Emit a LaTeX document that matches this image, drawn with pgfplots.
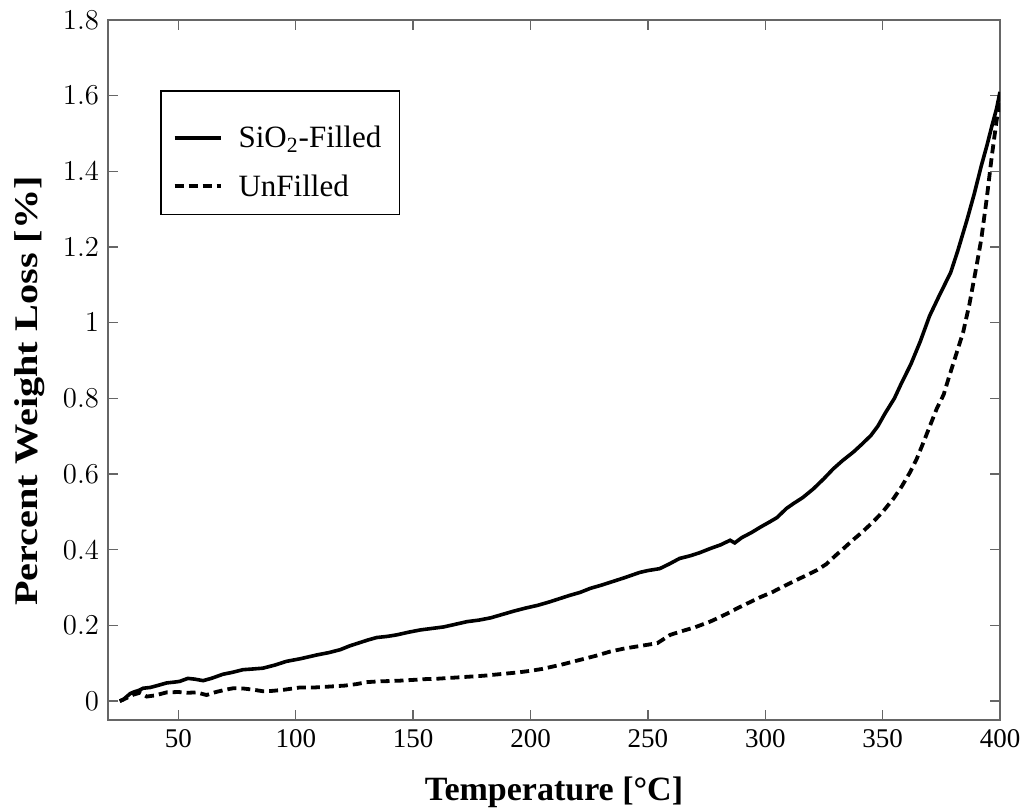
\documentclass[border=0pt]{standalone}
\usepackage{fontspec}
\setmainfont{Liberation Serif}
\newfontfamily\ylabfont[FakeStretch=1.22]{Liberation Serif}
\usepackage{pgfplots}
\pgfplotsset{compat=1.18}
\begin{document}
\begin{tikzpicture}
\begin{axis}[
  scale only axis,
  width=446pt, height=350pt,
  xmin=20, xmax=400, ymin=-0.05, ymax=1.8,
  xtick={50,100,...,400},
  ytick={0,0.2,0.4,0.6,0.8,1,1.2,1.4,1.6,1.8},
  yticklabels={$0$,$0.2$,$0.4$,$0.6$,$0.8$,$1$,$1.2$,$1.4$,$1.6$,$1.8$},
  tick align=inside,
  major tick length=5pt,
  axis line style={black!60, line width=0.7pt},
  every tick/.style={black!60, line width=0.7pt},
  xticklabel style={/pgf/number format/assume math mode=true, font=\fontsize{13.5}{15}\selectfont, yshift=-1pt},
  yticklabel style={font=\fontsize{15}{17}\selectfont, xshift=-1pt},
  xlabel={\textbf{Temperature [\textdegree C]}},
  ylabel={\ylabfont\bfseries Percent Weight Loss [\%]},
  xlabel style={font=\fontsize{17}{19}\selectfont, yshift=-8pt},
  ylabel style={font=\fontsize{16.5}{19}\selectfont, at={(ticklabel cs:0.47)}, yshift=2pt},
  legend style={at={(0.0583,0.9)}, anchor=north west, draw=black, line width=0.8pt,
    font=\fontsize{15.5}{18}\selectfont, inner xsep=6pt, inner ysep=5.5pt, row sep=8pt,
    cells={anchor=base west}},
  legend image code/.code={\draw[#1] (0pt,5pt) -- (23pt,5pt);},
]
\addplot[black, line width=1.8pt] coordinates {
(25,0)(26.5,0.004)(28,0.012)(29.5,0.02)(31,0.024)(33,0.028)(35,0.034)(38,0.036)(41,0.041)(45,0.048)
(48,0.05)(50.5,0.052)(54,0.06)(57,0.058)(60.5,0.054)(64,0.06)(69,0.071)(73,0.076)(77.5,0.083)(82,0.085)
(86,0.087)(91,0.095)(96,0.105)(102,0.112)(109,0.122)(114,0.128)(119,0.136)(123,0.146)(127,0.154)(131,0.162)
(134.5,0.168)(139,0.171)(143,0.175)(148,0.182)(153,0.188)(158,0.192)(163,0.196)(168,0.203)(173,0.21)(178,0.214)
(183,0.22)(188,0.229)(193,0.238)(198,0.246)(203,0.253)(208,0.262)(212.5,0.271)(217,0.28)(221,0.287)(225.5,0.298)
(230,0.306)(235,0.316)(240,0.326)(246.5,0.34)(250,0.345)(255,0.35)(259,0.362)(263.5,0.377)(268,0.384)(272,0.392)
(276.5,0.403)(281,0.413)(285,0.425)(287,0.418)(290,0.432)(294,0.445)(298,0.46)(302,0.474)(305,0.485)(309,0.509)
(312,0.522)(316,0.538)(320.5,0.561)(325,0.588)(329,0.614)(333,0.636)(337.5,0.658)(341,0.678)(345,0.702)(348,0.727)
(351,0.76)(355,0.8)(358,0.84)(362,0.89)(366,0.95)(370,1.018)(374,1.07)(379,1.133)(382,1.19)(386,1.273)
(389,1.34)(392,1.414)(394.5,1.47)(396.5,1.519)(398.5,1.565)(400,1.61)
};
\addlegendentry{\rule{0pt}{21pt}\hspace*{6pt}SiO\textsubscript{2}-Filled\hspace*{1pt}}
\addplot[black, line width=1.9pt, dash pattern=on 4.5pt off 2.5pt] coordinates {
(25,0)(26.5,0.004)(28.5,0.01)(30.8,0.017)(33.6,0.022)(36.5,0.012)(40,0.015)(45,0.023)(50,0.024)(54,0.022)
(57.7,0.023)(62,0.016)(66,0.024)(70,0.03)(73.4,0.034)(78,0.033)(82,0.03)(86,0.026)(90,0.027)(95,0.03)
(101.8,0.036)(108,0.036)(116,0.039)(121,0.041)(126,0.045)(130,0.05)(135,0.052)(140,0.053)(144.4,0.054)(150,0.056)
(155,0.058)(160,0.059)(165,0.061)(170,0.063)(175,0.065)(180,0.067)(185,0.07)(190,0.073)(195,0.076)(200,0.08)
(205,0.085)(210,0.092)(213,0.096)(218,0.104)(223,0.112)(228,0.12)(234,0.131)(240,0.139)(246,0.145)(250,0.149)
(254,0.153)(259.5,0.175)(264,0.184)(270,0.195)(276.5,0.21)(280,0.22)(284,0.232)(288,0.245)(293,0.26)(298,0.275)
(303,0.288)(309,0.307)(314,0.322)(318,0.334)(322,0.346)(326,0.362)(330,0.385)(333.3,0.403)(337,0.424)(341,0.445)
(346,0.474)(350,0.5)(354.6,0.535)(358,0.566)(361.7,0.605)(364.5,0.64)(367.4,0.684)(370,0.725)(373,0.772)(376,0.81)
(378,0.851)(381,0.91)(384.3,0.975)(387,1.05)(390,1.15)(392,1.22)(394.3,1.326)(396.5,1.44)(398.6,1.537)(400,1.58)
};
\addlegendentry{\hspace*{6pt}UnFilled}
\end{axis}
\pgfresetboundingbox
\path ([shift={(-54pt,-44.5pt)}]current axis.south west) rectangle ([shift={(12pt,10pt)}]current axis.north east);
\end{tikzpicture}
\end{document}
